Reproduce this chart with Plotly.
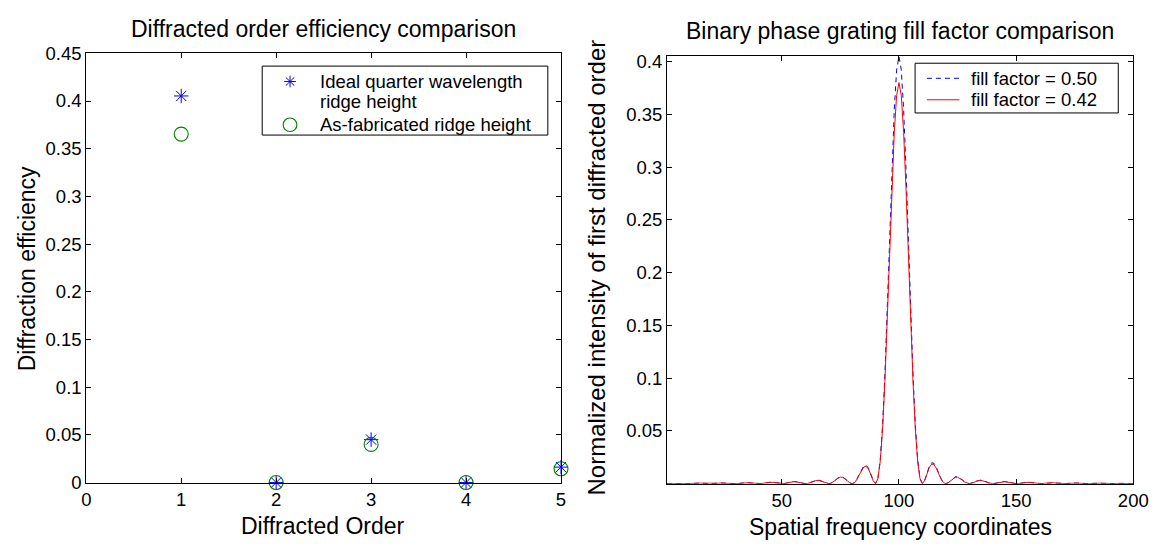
import plotly.graph_objects as go

# ---- Left panel: diffraction efficiency per order ----
orders = [1, 2, 3, 4, 5]
ideal_eff = [0.4053, 0.0, 0.0450, 0.0, 0.0162]
fabricated_eff = [0.3653, 0.0, 0.0400, 0.0, 0.0144]

# ---- Right panel: first-order intensity vs spatial frequency ----
spatial_freq = list(range(1, 201))

ff_050 = [
    0.00004, 0.00015, 0.00029, 0.00040, 0.00045, 0.00042, 0.00031, 0.00017, 0.00005, 0.0,
    0.00005, 0.00018, 0.00035, 0.00050, 0.00057, 0.00053, 0.00039, 0.00021, 0.00006, 0.0,
    0.00006, 0.00023, 0.00045, 0.00064, 0.00073, 0.00068, 0.00050, 0.00027, 0.00008, 0.0,
    0.00008, 0.00031, 0.00060, 0.00085, 0.00097, 0.00091, 0.00068, 0.00037, 0.00011, 0.0,
    0.00011, 0.00042, 0.00083, 0.00118, 0.00136, 0.00127, 0.00096, 0.00052, 0.00015, 0.0,
    0.00016, 0.00062, 0.00122, 0.00175, 0.00203, 0.00192, 0.00145, 0.00080, 0.00023, 0.0,
    0.00026, 0.00098, 0.00196, 0.00286, 0.00335, 0.00321, 0.00247, 0.00138, 0.00041, 0.0,
    0.00047, 0.00181, 0.00368, 0.00549, 0.00657, 0.00644, 0.00508, 0.00293, 0.00089, 0.0,
    0.00100, 0.00405, 0.00860, 0.01340, 0.01690, 0.01750, 0.01470, 0.00910, 0.00300, 0.0,
    0.00484, 0.02215, 0.05481, 0.10310, 0.16414, 0.23198, 0.29842, 0.35443, 0.39185, 0.40500,
    0.39185, 0.35443, 0.29842, 0.23198, 0.16414, 0.10310, 0.05481, 0.02215, 0.00484, 0.0,
    0.00340, 0.01035, 0.01670, 0.01990, 0.01915, 0.01520, 0.00975, 0.00460, 0.00115, 0.0,
    0.00089, 0.00293, 0.00508, 0.00644, 0.00657, 0.00549, 0.00368, 0.00181, 0.00047, 0.0,
    0.00041, 0.00138, 0.00247, 0.00321, 0.00335, 0.00286, 0.00196, 0.00098, 0.00026, 0.0,
    0.00023, 0.00080, 0.00145, 0.00192, 0.00203, 0.00175, 0.00122, 0.00062, 0.00016, 0.0,
    0.00015, 0.00052, 0.00096, 0.00127, 0.00136, 0.00118, 0.00083, 0.00042, 0.00011, 0.0,
    0.00011, 0.00037, 0.00068, 0.00091, 0.00097, 0.00085, 0.00060, 0.00031, 0.00008, 0.0,
    0.00008, 0.00027, 0.00050, 0.00068, 0.00073, 0.00064, 0.00045, 0.00023, 0.00006, 0.0,
    0.00006, 0.00021, 0.00039, 0.00053, 0.00057, 0.00050, 0.00035, 0.00018, 0.00005, 0.0,
    0.00005, 0.00017, 0.00031, 0.00042, 0.00045, 0.00040, 0.00029, 0.00015, 0.00004, 0.0,
]

ff_042 = [
    0.00004, 0.00014, 0.00027, 0.00038, 0.00042, 0.00039, 0.00029, 0.00016, 0.00005, 0.0,
    0.00005, 0.00017, 0.00033, 0.00047, 0.00053, 0.00050, 0.00037, 0.00020, 0.00006, 0.0,
    0.00006, 0.00022, 0.00042, 0.00060, 0.00068, 0.00064, 0.00047, 0.00025, 0.00007, 0.0,
    0.00008, 0.00029, 0.00056, 0.00080, 0.00091, 0.00085, 0.00064, 0.00035, 0.00010, 0.0,
    0.00010, 0.00040, 0.00078, 0.00111, 0.00127, 0.00119, 0.00090, 0.00049, 0.00014, 0.0,
    0.00015, 0.00058, 0.00114, 0.00165, 0.00190, 0.00180, 0.00136, 0.00075, 0.00022, 0.0,
    0.00024, 0.00092, 0.00184, 0.00269, 0.00314, 0.00301, 0.00231, 0.00130, 0.00038, 0.0,
    0.00044, 0.00170, 0.00346, 0.00515, 0.00616, 0.00605, 0.00476, 0.00275, 0.00083, 0.0,
    0.00094, 0.00380, 0.00805, 0.01255, 0.01585, 0.01640, 0.01380, 0.00855, 0.00280, 0.0,
    0.00454, 0.02078, 0.05143, 0.09674, 0.15401, 0.21766, 0.28000, 0.33255, 0.36766, 0.38000,
    0.36766, 0.33255, 0.28000, 0.21766, 0.15401, 0.09674, 0.05143, 0.02078, 0.00454, 0.0,
    0.00320, 0.00970, 0.01565, 0.01865, 0.01795, 0.01430, 0.00915, 0.00430, 0.00107, 0.0,
    0.00083, 0.00275, 0.00476, 0.00605, 0.00616, 0.00515, 0.00346, 0.00170, 0.00044, 0.0,
    0.00038, 0.00130, 0.00231, 0.00301, 0.00314, 0.00269, 0.00184, 0.00092, 0.00024, 0.0,
    0.00022, 0.00075, 0.00136, 0.00180, 0.00190, 0.00165, 0.00114, 0.00058, 0.00015, 0.0,
    0.00014, 0.00049, 0.00090, 0.00119, 0.00127, 0.00111, 0.00078, 0.00040, 0.00010, 0.0,
    0.00010, 0.00035, 0.00064, 0.00085, 0.00091, 0.00080, 0.00056, 0.00029, 0.00008, 0.0,
    0.00007, 0.00025, 0.00047, 0.00064, 0.00068, 0.00060, 0.00042, 0.00022, 0.00006, 0.0,
    0.00006, 0.00020, 0.00037, 0.00050, 0.00053, 0.00047, 0.00033, 0.00017, 0.00005, 0.0,
    0.00005, 0.00016, 0.00029, 0.00039, 0.00042, 0.00038, 0.00027, 0.00014, 0.00004, 0.0,
]

left_yticks = [0, 0.05, 0.1, 0.15, 0.2, 0.25, 0.3, 0.35, 0.4, 0.45]
left_ytext = ["0", "0.05", "0.1", "0.15", "0.2", "0.25", "0.3", "0.35", "0.4", "0.45"]
left_xticks = [0, 1, 2, 3, 4, 5]
right_yticks = [0.05, 0.1, 0.15, 0.2, 0.25, 0.3, 0.35, 0.4]
right_ytext = ["0.05", "0.1", "0.15", "0.2", "0.25", "0.3", "0.35", "0.4"]
right_xticks = [50, 100, 150, 200]

left_legend_labels = ["Ideal quarter wavelength", "ridge height", "As-fabricated ridge height"]
right_legend_labels = ["fill factor = 0.50", "fill factor = 0.42"]

FONT = "Liberation Sans, Arial, sans-serif"
W, H = 1166, 549
BLUE, GREEN, RED = "#0000ff", "#008000", "#ff0000"
DASH = "5px,4px"


def px_x(p):
    """Pixel column -> paper x fraction."""
    return p / W


def px_y(p):
    """Pixel row -> paper y fraction."""
    return 1 - p / H


fig = go.Figure()

fig.add_trace(go.Scatter(
    x=orders, y=ideal_eff, mode="markers", name=" ".join(left_legend_labels[:2]),
    marker=dict(symbol="asterisk-open", size=12, color=BLUE,
                line=dict(color=BLUE, width=1)),
    xaxis="x", yaxis="y", cliponaxis=False,
))
fig.add_trace(go.Scatter(
    x=orders, y=fabricated_eff, mode="markers", name=left_legend_labels[2],
    marker=dict(symbol="circle-open", size=14, color=GREEN,
                line=dict(color=GREEN, width=1.1)),
    xaxis="x", yaxis="y", cliponaxis=False,
))

fig.add_trace(go.Scatter(
    x=spatial_freq, y=ff_050, mode="lines", name=right_legend_labels[0],
    line=dict(color=BLUE, width=1, dash=DASH),
    xaxis="x2", yaxis="y2",
))
fig.add_trace(go.Scatter(
    x=spatial_freq, y=ff_042, mode="lines", name=right_legend_labels[1],
    line=dict(color=RED, width=1),
    xaxis="x2", yaxis="y2",
))

axis_common = dict(
    showline=True, linecolor="black", linewidth=1, mirror="ticks",
    ticks="inside", ticklen=5, tickcolor="black", tickwidth=1,
    showgrid=False, zeroline=False,
    tickfont=dict(family=FONT, size=18.5, color="black"),
)

fig.update_layout(
    width=W, height=H,
    margin=dict(l=0, r=0, t=0, b=0),
    paper_bgcolor="white", plot_bgcolor="white",
    font=dict(family=FONT, size=18, color="black"),
    showlegend=False,
    xaxis=dict(domain=[px_x(82.7), px_x(565.7)], range=[0, 5],
               tickmode="array", tickvals=left_xticks, anchor="y", **axis_common),
    yaxis=dict(domain=[px_y(490.3), px_y(44)], range=[0, 0.45],
               tickmode="array", tickvals=left_yticks, ticktext=left_ytext,
               anchor="x", **axis_common),
    xaxis2=dict(domain=[px_x(673.5), px_x(1148)], range=[1, 200],
                tickmode="array", tickvals=right_xticks, anchor="y2", **axis_common),
    yaxis2=dict(domain=[px_y(491.5), px_y(47)], range=[0, 0.405],
                tickmode="array", tickvals=right_yticks, ticktext=right_ytext,
                anchor="x2", **axis_common),
)

# ---- Legend boxes (MATLAB-style compact legends) ----
shapes = []


def box(x0, y0, x1, y1):
    shapes.append(dict(type="rect", xref="paper", yref="paper",
                       x0=px_x(x0), x1=px_x(x1), y0=px_y(y1), y1=px_y(y0),
                       fillcolor="white", line=dict(color="black", width=1)))


def key_line(x0, x1, y, color, dash="solid"):
    shapes.append(dict(type="line", xref="paper", yref="paper",
                       x0=px_x(x0), x1=px_x(x1), y0=px_y(y), y1=px_y(y),
                       line=dict(color=color, width=1, dash=dash)))


def key_asterisk(cx, cy, r, color):
    d = r * 0.72
    segs = [(-r, 0, r, 0), (0, -r, 0, r), (-d, -d, d, d), (-d, d, d, -d)]
    path = " ".join(
        f"M{px_x(cx + a):.6f},{px_y(cy + b):.6f} L{px_x(cx + c):.6f},{px_y(cy + e):.6f}"
        for a, b, c, e in segs
    )
    shapes.append(dict(type="path", xref="paper", yref="paper", path=path,
                       line=dict(color=color, width=1)))


def key_circle(cx, cy, r, color):
    shapes.append(dict(type="circle", xref="paper", yref="paper",
                       x0=px_x(cx - r), x1=px_x(cx + r), y0=px_y(cy + r), y1=px_y(cy - r),
                       line=dict(color=color, width=1.1)))


box(261.7, 57.3, 552.3, 129)
key_asterisk(290, 73.3, 6, BLUE)
key_circle(290, 118.3, 7, GREEN)

box(926, 54.3, 1132.7, 106)
key_line(938, 971, 70, BLUE, DASH)
key_line(938, 971, 92.3, RED)

fig.update_layout(shapes=shapes)

annotations = []


def label(text, x, y, size, angle=0, anchor="center"):
    annotations.append(dict(text=text, x=px_x(x), y=px_y(y), xref="paper", yref="paper",
                            showarrow=False, xanchor=anchor, yanchor="middle",
                            textangle=angle,
                            font=dict(family=FONT, size=size, color="black")))


label("Diffracted order efficiency comparison", 324, 19, 23)
label("Binary phase grating fill factor comparison", 911, 21, 23)
label("Diffracted Order", 324, 535, 23)
label("Spatial frequency coordinates", 911, 537, 23)
label("Diffraction efficiency", 22, 268, 23, angle=-90)
label("Normalized intensity of first diffracted order", 602, 267, 24, angle=-90)

for text, y in zip(left_legend_labels, [73.3, 94.3, 118.3]):
    label(text, 318, y, 18.5, anchor="left")
for text, y in zip(right_legend_labels, [70, 92.3]):
    label(text, 981, y, 18.5, anchor="left")

fig.update_layout(annotations=annotations)

fig.write_html("out.html")
